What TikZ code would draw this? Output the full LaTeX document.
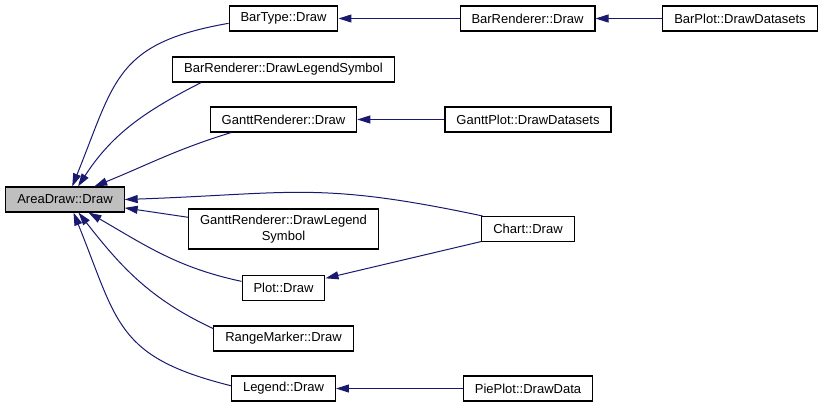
\documentclass[tikz,border=0pt]{standalone}
\usepackage{fontspec}
\setmainfont{Liberation Sans}
\usetikzlibrary{arrows.meta}
\definecolor{callblue}{HTML}{191970}
\definecolor{focusgray}{HTML}{BFBFBF}
\tikzset{
member/.style = {rectangle, draw, line width = 0.8pt, inner xsep = 8.6pt,
   inner ysep = 0pt, minimum height = 18.75pt, align = center,
   font = \fontsize{9.75}{12}\selectfont},
current/.style = {member, fill = focusgray},
call/.style = {-{Triangle[length = 9.75pt, width = 6pt]}, callblue,
   line width = 0.75pt}
}

\begin{document}
\begin{tikzpicture}[x = 0.75pt, y = 0.75pt]
\useasboundingbox (0,0) rectangle (824,-408);

%% Function boxes
\node [current] (areadraw) at (65,-199.5) {AreaDraw::Draw};

\node [member] (bartype) at (283.5,-18.5) {BarType::Draw};
\node [member] (barlegend) at (283.5,-69.5) {BarRenderer::DrawLegendSymbol};
\node [member] (ganttrenderer) at (283.5,-119.5) {GanttRenderer::Draw};
\node [member, minimum height = 30pt] (ganttlegend) at (283.5,-229)
   {GanttRenderer::DrawLegend\\Symbol};
\node [member] (plotdraw) at (283.5,-288) {Plot::Draw};
\node [member] (rangemarker) at (283.5,-338.5) {RangeMarker::Draw};
\node [member] (legenddraw) at (283.5,-388.5) {Legend::Draw};

\node [member] (barrenderer) at (527.5,-18.5) {BarRenderer::Draw};
\node [member] (ganttplot) at (528,-119.5) {GanttPlot::DrawDatasets};
\node [member] (chart) at (528,-229) {Chart::Draw};
\node [member] (pieplot) at (528,-388.5) {PiePlot::DrawData};

\node [member] (barplot) at (740,-18.5) {BarPlot::DrawDatasets};

%% Calls into AreaDraw::Draw
\path [call] (bartype.185) edge [out = 190, in = 68, looseness = 1.3] (areadraw.61);
\path [call] (barlegend.189) edge [out = 207, in = 57] (areadraw.45);
\path [call] (ganttrenderer.194) edge [out = 197, in = 22] (areadraw.24);
\path [call] (chart.164) edge [out = 168, in = 2, looseness = 1.2] (areadraw.east);
\path [call] (ganttlegend.173) edge (areadraw.352);
\path [call] (plotdraw.171) edge [out = 168, in = -30] (areadraw.331);
\path [call] (rangemarker.172) edge [out = 155, in = -52] (areadraw.316);
\path [call] (legenddraw.177) edge [out = 166, in = -68, looseness = 1.3] (areadraw.303);

%% Other callers
\path [call] (barrenderer) edge (bartype);
\path [call] (barplot) edge (barrenderer);
\path [call] (ganttplot) edge (ganttrenderer);
\path [call] (chart.195) edge (plotdraw.13);
\path [call] (pieplot) edge (legenddraw);

\end{tikzpicture}
\end{document}
